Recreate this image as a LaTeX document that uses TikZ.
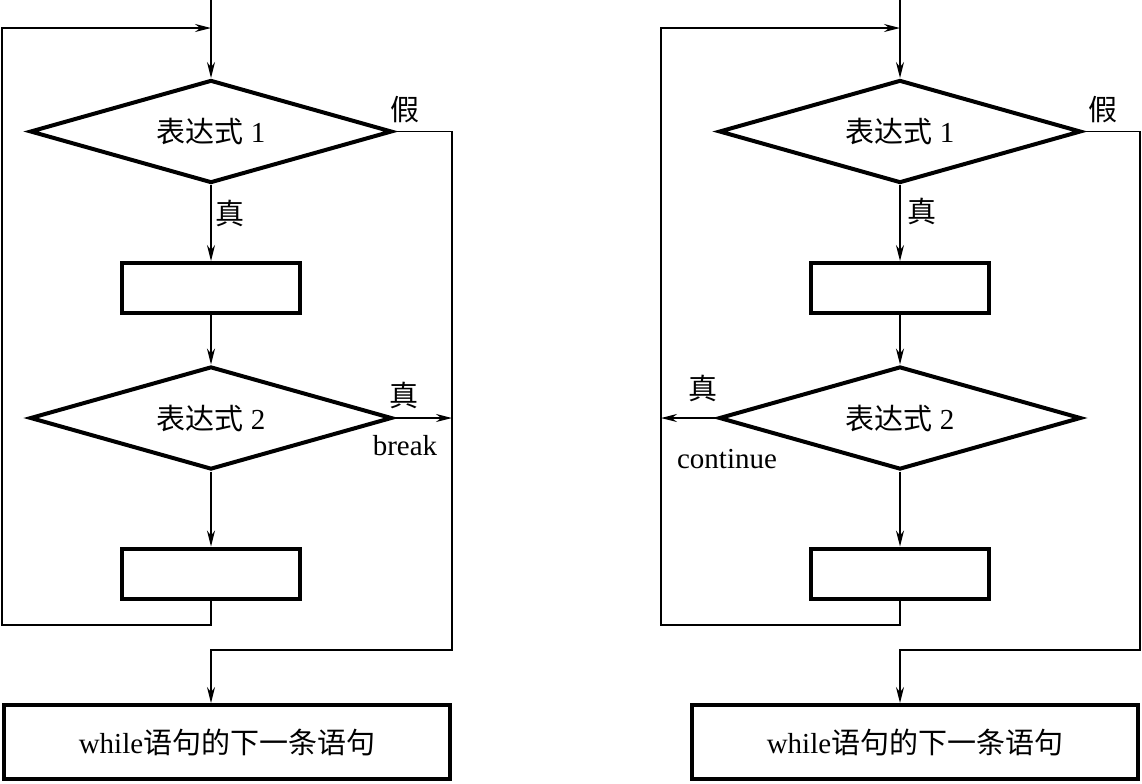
\documentclass[tikz,border=0pt]{standalone}
\usepackage{fontspec}
\setmainfont{Liberation Serif}
\newfontfamily\cjk{Noto Sans CJK SC}
\usetikzlibrary{shapes.geometric,arrows.meta}

\begin{document}
\begin{tikzpicture}[x=0.5pt,y=0.5pt]
\tikzstyle{every node}+=[inner sep=0pt,font=\fontsize{14.5}{17}\selectfont]
\tikzstyle{cond}=[diamond,draw,line width=2pt,aspect=3.54,minimum width=181pt,minimum height=51.5pt]
\tikzstyle{stmt}=[rectangle,draw,line width=2pt,minimum width=89pt,minimum height=25pt]
\tikzstyle{nextbox}=[rectangle,draw,line width=2pt,minimum width=223pt,minimum height=37pt]
\tikzstyle{flow}=[line width=0.7pt,-{Stealth[length=8pt,width=4pt]}]
\useasboundingbox (0,0) rectangle (1142,-783);

% while with break
\coordinate (top1) at (211,0);
\node[cond] (e11) at (211,-131.5) {{\cjk 表达式} 1};
\node[stmt] (s11) at (211,-288) {};
\node[cond] (e12) at (211,-418) {{\cjk 表达式} 2};
\node[stmt] (s12) at (211,-573.5) {};
\node[nextbox] (n1) at (227,-742) {while{\cjk 语句的下一条语句}};
\coordinate (j1) at (211,-28);
\coordinate (c1) at (2,-625);
\coordinate (f1) at (452,-650);
\coordinate (brk1) at (452,-418);
\draw[flow] (top1) -- (e11.north);
\draw[flow] (e11.south) -- (s11.north);
\draw[flow] (s11.south) -- (e12.north);
\draw[flow] (e12.south) -- (s12.north);
\draw[flow] (s12.south) |- (c1) |- (j1);
\draw[flow] (e11.east) -| (f1) -| (n1.north -| top1);
\draw[flow] (e12.east) -- (brk1);
\node (no1) at (405,-110) {\cjk 假};
\node (yes11) at (230,-213) {\cjk 真};
\node (yes12) at (404,-395) {\cjk 真};
\node (lbrk) at (405,-446) {break};

% while with continue
\coordinate (top2) at (900,0);
\node[cond] (e21) at (900,-131.5) {{\cjk 表达式} 1};
\node[stmt] (s21) at (900,-288) {};
\node[cond] (e22) at (900,-418) {{\cjk 表达式} 2};
\node[stmt] (s22) at (900,-573.5) {};
\node[nextbox] (n2) at (915,-742) {while{\cjk 语句的下一条语句}};
\coordinate (j2) at (900,-28);
\coordinate (c2) at (661,-625);
\coordinate (f2) at (1140,-650);
\coordinate (cnt2) at (661,-418);
\draw[flow] (top2) -- (e21.north);
\draw[flow] (e21.south) -- (s21.north);
\draw[flow] (s21.south) -- (e22.north);
\draw[flow] (e22.south) -- (s22.north);
\draw[flow] (s22.south) |- (c2) |- (j2);
\draw[flow] (e21.east) -| (f2) -| (n2.north -| top2);
\draw[flow] (e22.west) -- (cnt2);
\node (no2) at (1103,-110) {\cjk 假};
\node (yes21) at (922,-211) {\cjk 真};
\node (yes22) at (703,-388) {\cjk 真};
\node (lcnt) at (727,-459) {continue};
\end{tikzpicture}
\end{document}
